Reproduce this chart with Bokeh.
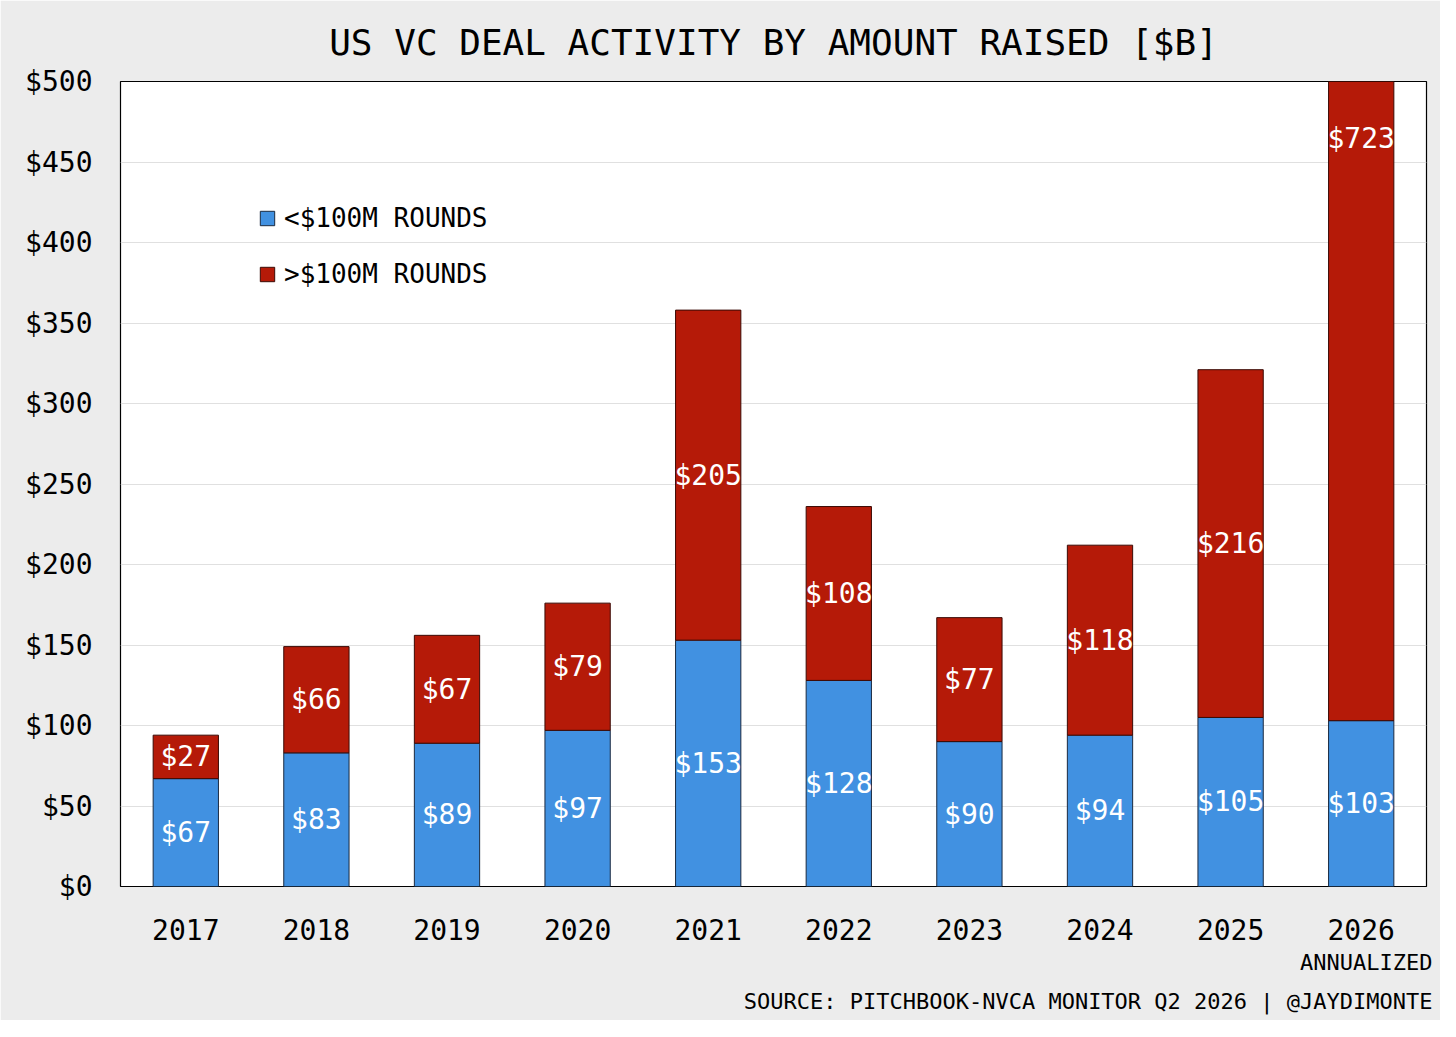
from bokeh.plotting import figure
from bokeh.models import ColumnDataSource, Title, Legend, LegendItem, FixedTicker, Range1d
from bokeh.core.properties import value
from bokeh.embed import file_html
from bokeh.resources import INLINE

years = ["2017","2018","2019","2020","2021","2022","2023","2024","2025","2026"]
small = [67,83,89,97,153,128,90,94,105,103]
large = [27,66,67,79,205,108,77,118,216,723]

F = "DejaVu Sans Mono"
BLUE = "#4191e1"; RED = "#b51a08"; BG = "#ececec"

x = [i + 0.5 for i in range(len(years))]
top = [s + l for s, l in zip(small, large)]
src = ColumnDataSource(dict(x=x, s=small, l=large, top=top,
    sm=[s/2 for s in small], lm=[s + l/2 for s, l in zip(small, large)],
    st=["$%d" % v for v in small], lt=["$%d" % v for v in large]))

p = figure(width=1440, height=1020, output_backend="svg", toolbar_location=None,
           x_range=Range1d(0, 10), y_range=Range1d(0, 500),
           background_fill_color="white", border_fill_color=BG,
           min_border_left=120, min_border_right=14, min_border_top=10, min_border_bottom=29)
p.title.text = "US VC DEAL ACTIVITY BY AMOUNT RAISED [$B]"
p.title.align = "center"
p.title.text_font = F
p.title.text_font_size = "36px"
p.title.text_font_style = "normal"
p.title.text_color = "black"
p.title.standoff = 38

p.outline_line_color = "black"
p.outline_line_width = 1.2
p.xgrid.grid_line_color = None
p.ygrid.grid_line_color = "#e0e0e0"
p.ygrid.ticker = FixedTicker(ticks=list(range(0, 501, 50)))

for ax in (p.xaxis, p.yaxis):
    ax.axis_line_color = None
    ax.major_tick_line_color = None
    ax.minor_tick_line_color = None
    ax.major_label_text_font = F
    ax.major_label_text_font_size = "28px"
    ax.major_label_text_color = "black"
p.yaxis.ticker = FixedTicker(ticks=list(range(0, 501, 50)))
p.yaxis.major_label_overrides = {v: "$%d" % v for v in range(0, 501, 50)}
p.yaxis.major_label_standoff = 22
p.xaxis.ticker = FixedTicker(ticks=x)
p.xaxis.major_label_overrides = {xi: y for xi, y in zip(x, years)}
p.xaxis.major_label_standoff = 26

rb = p.vbar(x="x", bottom=0, top="s", width=0.5, source=src, fill_color=BLUE, line_color="#1a2a40", line_width=1)
rr = p.vbar(x="x", bottom="s", top="top", width=0.5, source=src, fill_color=RED, line_color="#3a0a05", line_width=1)
for yc, tc in (("sm", "st"), ("lm", "lt")):
    p.text(x="x", y=yc, text=tc, source=src, text_color="white", text_font=value(F),
           text_align="center", text_baseline="middle", text_font_size="28px")

leg = Legend(items=[LegendItem(label="<$100M ROUNDS", renderers=[rb]),
                    LegendItem(label=">$100M ROUNDS", renderers=[rr])],
             location=(138, 597), background_fill_alpha=0, border_line_color=None,
             label_text_font=F, label_text_font_size="26px", label_text_color="black",
             glyph_width=18, glyph_height=18, spacing=26, label_standoff=8)
p.add_layout(leg)

ann = Title(text="ANNUALIZED", align="right", text_font=F, text_font_size="22px",
            text_font_style="normal", text_color="black", offset=-6)
src_t = Title(text="SOURCE: PITCHBOOK-NVCA MONITOR Q2 2026 | @JAYDIMONTE", align="right",
              text_font=F, text_font_size="22px", text_font_style="normal", text_color="black", offset=-6, standoff=14)
p.add_layout(ann, "below")
p.add_layout(src_t, "below")

open("out.html", "w").write(file_html(p, INLINE))
